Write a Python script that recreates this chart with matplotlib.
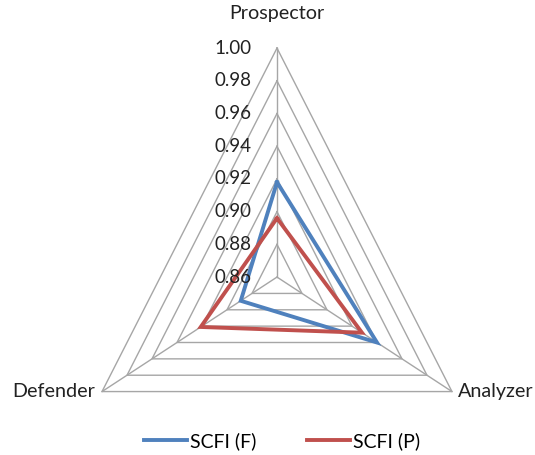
import numpy as np
import matplotlib
matplotlib.use('Agg')
import matplotlib.pyplot as plt

# data
categories = ['Prospector', 'Analyzer', 'Defender']
scfi_f = [0.918, 0.940, 0.889]
scfi_p = [0.896, 0.928, 0.921]
series_names = ['SCFI (F)', 'SCFI (P)']
ticks = [0.86, 0.88, 0.90, 0.92, 0.94, 0.96, 0.98, 1.00]

rmin, rmax = ticks[0], ticks[-1]
angles = np.deg2rad([90, -30, 210])

plt.rcParams['font.family'] = ['Lato', 'DejaVu Sans']

fig = plt.figure(figsize=(5.35, 4.55), dpi=100)
ax = fig.add_axes([0, 0, 1, 1])
ax.set_xlim(-1.371, 1.277)
ax.set_ylim(-0.777, 1.21)
ax.axis('off')


def to_xy(vals):
    frac = (np.asarray(vals) - rmin) / (rmax - rmin)
    x = frac * np.cos(angles)
    y = frac * np.sin(angles)
    return np.append(x, x[0]), np.append(y, y[0])


# grid rings and spokes
grid_col = '#a6a6a6'
for t in ticks[1:]:
    gx, gy = to_xy([t] * 3)
    ax.plot(gx, gy, color=grid_col, lw=1.0, zorder=1)
for a in angles:
    ax.plot([0, np.cos(a)], [0, np.sin(a)], color=grid_col, lw=1.0, zorder=1)

# series
colors = ['#4f81bd', '#c0504d']
for vals, col, name in zip([scfi_f, scfi_p], colors, series_names):
    sx, sy = to_xy(vals)
    ax.plot(sx, sy, color=col, lw=2.8, label=name, zorder=3,
            solid_joinstyle='miter')

# tick labels on the top axis
for t in ticks:
    frac = (t - rmin) / (rmax - rmin)
    ax.annotate(f'{t:.2f}', xy=(0, frac), xytext=(-18, 0),
                textcoords='offset points', ha='right', va='center',
                fontsize=13.5, color='#222222')

# category labels
fs = 14.2
ax.annotate(categories[0], xy=(0, 1), xytext=(0, 19), textcoords='offset points',
            ha='center', va='bottom', fontsize=fs, color='#222222')
ax.annotate(categories[1], xy=(np.cos(angles[1]), np.sin(angles[1])), xytext=(4, 0),
            textcoords='offset points', ha='left', va='center', fontsize=fs,
            color='#222222')
ax.annotate(categories[2], xy=(np.cos(angles[2]), np.sin(angles[2])), xytext=(-5, 0),
            textcoords='offset points', ha='right', va='center', fontsize=fs,
            color='#222222')

leg = ax.legend(loc='lower center', bbox_to_anchor=(0.527, -0.028), ncol=2,
                frameon=False, fontsize=14, handlelength=2.2,
                handletextpad=0.15, columnspacing=2.6)

fig.savefig('out.png', dpi=100)
